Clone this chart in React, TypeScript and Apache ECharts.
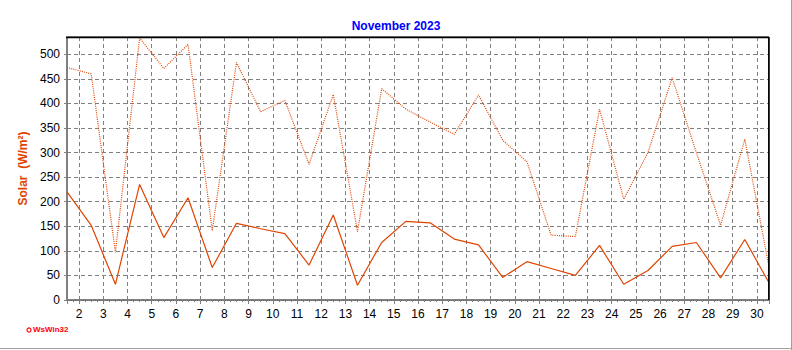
import React, { useEffect, useRef } from "react";
import * as echarts from "echarts";

const TITLE = "November 2023";
const Y_NAME = "Solar  (W/m²)";
const days = [1.5, 2.5, 3.5, 4.5, 5.5, 6.5, 7.5, 8.5, 9.5, 10.5, 11.5, 12.5, 13.5, 14.5, 15.5, 16.5, 17.5, 18.5, 19.5, 20.5, 21.5, 22.5, 23.5, 24.5, 25.5, 26.5, 27.5, 28.5, 29.5, 30.5];
const solarAvg = [220, 152, 32, 235, 127, 208, 66, 156, 145, 135, 71, 173, 30, 117, 160, 157, 124, 112, 46, 78, 64, 50, 111, 32, 60, 109, 117, 45, 123, 35];
const solarMax = [473, 460, 97, 533, 471, 520, 141, 483, 383, 406, 276, 418, 139, 430, 388, 362, 337, 417, 325, 281, 132, 129, 388, 205, 300, 452, 300, 152, 327, 67];

const LINE_COLOR = "#E04400";

export default function App() {
  const ref = useRef<HTMLDivElement>(null);
  useEffect(() => {
    if (!ref.current) return;
    const chart = echarts.init(ref.current, null, { renderer: "svg" });
    const font = "Arial, 'Liberation Sans', sans-serif";
    chart.setOption({
      animation: false,
      backgroundColor: "#ffffff",
      title: {
        text: TITLE,
        left: "center",
        top: 15,
        textStyle: { color: "#0000FF", fontSize: 12, fontWeight: "bold", fontFamily: font },
      },
      grid: {
        left: 67,
        right: 23,
        top: 37,
        bottom: 50,
        show: true,
        borderColor: "#000000",
        borderWidth: 1,
      },
      xAxis: {
        type: "value",
        min: 1.5,
        max: 30.5,
        splitNumber: 29,
        minInterval: 1,
        maxInterval: 1,
        axisLine: { show: true, onZero: false, lineStyle: { color: "#808080", width: 1 } },
        axisTick: { show: true, length: 4, lineStyle: { color: "#808080" } },
        minorTick: { show: true, splitNumber: 4, length: 2, lineStyle: { color: "#808080" } },
        axisLabel: {
          color: "#000000",
          fontSize: 12,
          fontFamily: font,
          margin: 8,
          formatter: (v: number) => (Number.isInteger(v) ? String(v) : ""),
        },
        splitLine: { show: true, lineStyle: { color: "#808080", type: [4, 3], width: 1 } },
      },
      yAxis: {
        type: "value",
        min: 0,
        max: 535,
        interval: 50,
        name: Y_NAME,
        nameLocation: "middle",
        nameGap: 36,
        nameTextStyle: { color: LINE_COLOR, fontSize: 12, fontWeight: "bold", fontFamily: font },
        axisLine: { show: true, lineStyle: { color: "#808080", width: 2 } },
        axisTick: { show: true, length: 3, lineStyle: { color: "#808080" } },
        axisLabel: {
          color: "#000000",
          fontSize: 12,
          fontFamily: font,
          margin: 7,
          showMaxLabel: false,
          formatter: (v: number) => (v % 50 === 0 ? String(v) : ""),
        },
        splitLine: { show: true, lineStyle: { color: "#808080", type: [4, 3], width: 1 } },
      },
      series: [
        {
          type: "line",
          name: "max",
          data: days.map((d, i) => [d, solarMax[i]]),
          symbol: "none",
          lineStyle: { color: LINE_COLOR, width: 1.2, type: [1, 1.2] },
          markLine: {
            silent: true,
            symbol: "none",
            label: { show: false },
            lineStyle: { color: LINE_COLOR, width: 1, type: [1, 1] },
            data: [{ yAxis: 0 }],
          },
        },
        {
          type: "line",
          name: "avg",
          data: days.map((d, i) => [d, solarAvg[i]]),
          symbol: "none",
          lineStyle: { color: LINE_COLOR, width: 1.2 },
        },
      ],
      graphic: [
        { type: "line", z: 100, shape: { x1: 66, y1: 37.5, x2: 769, y2: 37.5 }, style: { stroke: "#000000", lineWidth: 1.5 } },
        { type: "line", z: 100, shape: { x1: 768.8, y1: 37, x2: 768.8, y2: 300 }, style: { stroke: "#000000", lineWidth: 1.5 } },
        { type: "line", shape: { x1: 791.5, y1: 0, x2: 791.5, y2: 350 }, style: { stroke: "#A0A0A0", lineWidth: 1 } },
        { type: "line", shape: { x1: 0, y1: 348.5, x2: 792, y2: 348.5 }, style: { stroke: "#A0A0A0", lineWidth: 1 } },
        { type: "circle", shape: { cx: 29, cy: 330, r: 2 }, style: { fill: "none", stroke: "#FF0000", lineWidth: 1.2 } },
        {
          type: "text",
          left: 33,
          top: 325,
          style: { text: "WsWin32", fill: "#FF0000", font: "bold 8px Arial, 'Liberation Sans', sans-serif" },
        },
      ],
    });
    return () => chart.dispose();
  }, []);
  return (
    <div
      ref={ref}
      style={{ position: "fixed", left: 0, top: 0, width: 792, height: 350 }}
    />
  );
}
